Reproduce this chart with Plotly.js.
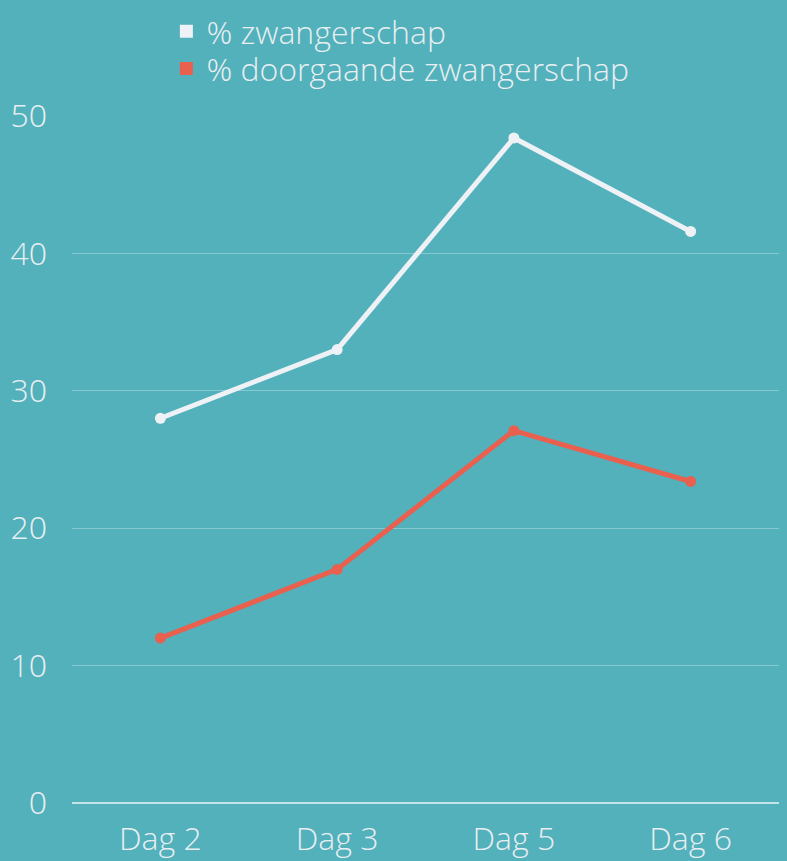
<!DOCTYPE html>
<html>
<head>
<meta charset="utf-8">
<script src="https://cdn.plot.ly/plotly-3.0.1.min.js"></script>
<style>
html,body{margin:0;padding:0;background:#52b1bb;}
#chart{width:787px;height:861px;}
</style>
</head>
<body>
<div id="chart"></div>
<script>
var categories = ["Dag 2", "Dag 3", "Dag 5", "Dag 6"];
var zwangerschap = [28.0, 33.0, 48.4, 41.6];
var doorgaande = [12.0, 17.0, 27.1, 23.4];
var seriesNames = ["% zwangerschap", "% doorgaande zwangerschap"];
var colors = ["#eef1f5", "#e9604f"];
var yTicks = [0, 10, 20, 30, 40, 50];

var fam = "Open Sans Light, Open Sans";
var txtColor = "#e9eef2";

var traces = [
  {x: categories, y: zwangerschap, mode: "lines+markers", showlegend: false,
   line: {color: colors[0], width: 5}, marker: {color: colors[0], size: 11}},
  {x: categories, y: doorgaande, mode: "lines+markers", showlegend: false,
   line: {color: colors[1], width: 5}, marker: {color: colors[1], size: 11}},
  {x: [null], y: [null], mode: "markers", name: seriesNames[0], legend: "legend",
   marker: {color: colors[0], symbol: "square", size: 13}},
  {x: [null], y: [null], mode: "markers", name: seriesNames[1], legend: "legend2",
   marker: {color: colors[1], symbol: "square", size: 13}}
];

function legendCfg(y) {
  return {
    x: 0.1335, y: y, xanchor: "left", yanchor: "top",
    bgcolor: "rgba(0,0,0,0)",
    font: {family: fam, weight: 300, size: 32, color: txtColor},
    itemwidth: 30
  };
}

var layout = {
  width: 787, height: 861,
  paper_bgcolor: "#52b1bb", plot_bgcolor: "#52b1bb",
  margin: {l: 71.5, r: 7.5, t: 116, b: 58, autoexpand: false},
  font: {family: fam, weight: 300, color: txtColor},
  showlegend: true,
  legend: legendCfg(1.163),
  legend2: legendCfg(1.109),
  xaxis: {
    type: "category", range: [-0.5, 3.5],
    showgrid: false, zeroline: false, showline: false,
    ticks: "", tickfont: {family: fam, weight: 300, size: 32, color: txtColor},
    ticklabelstandoff: 14
  },
  yaxis: {
    range: [0, 50], tickvals: yTicks, ticktext: yTicks.map(String),
    showgrid: true, gridcolor: "rgba(255,255,255,0.3)", gridwidth: 1.3,
    zeroline: true, zerolinecolor: "rgba(255,255,255,0.65)", zerolinewidth: 1.5,
    showline: false, ticks: "",
    tickfont: {family: fam, weight: 300, size: 32, color: txtColor},
    ticklabelstandoff: 24
  }
};

Plotly.newPlot("chart", traces, layout, {displayModeBar: false, staticPlot: true});
</script>
</body>
</html>
